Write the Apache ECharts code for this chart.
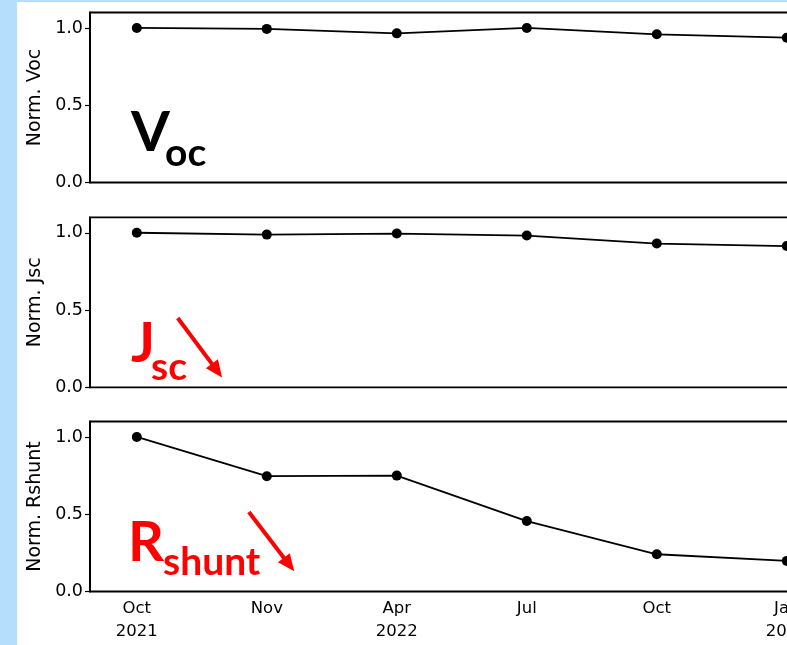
<!DOCTYPE html>
<html>
<head>
<meta charset="utf-8">
<script src="https://cdn.jsdelivr.net/npm/echarts@6/dist/echarts.min.js"></script>
<style>
  html, body { margin: 0; padding: 0; width: 787px; height: 645px; background: #b4defc; overflow: hidden; }
  #chart { position: absolute; left: 17px; top: 2px; width: 850px; height: 643px; background: #ffffff; }
</style>
</head>
<body>
<div id="chart"></div>
<script>
// Measurement dates (one per category) and normalised device parameters
const months = ['Oct\n2021', 'Nov', 'Apr\n2022', 'Jul', 'Oct', 'Jan\n2023'];
const voc = [1.0, 0.994, 0.965, 1.0, 0.959, 0.937];
const jsc = [1.0, 0.988, 0.995, 0.982, 0.930, 0.914];
const rshunt = [1.0, 0.746, 0.750, 0.456, 0.241, 0.198];
const yTicks = [0, 0.5, 1.0];
const yNames = ['Norm. Voc', 'Norm. Jsc', 'Norm. Rshunt'];

// Trend arrows in data units: [start, end]
const jscArrow = [[0.315, 0.448], [0.617, 0.108]];
const rshuntArrow = [[0.862, 0.514], [1.171, 0.175]];

const chart = echarts.init(document.getElementById('chart'), null, { renderer: 'canvas' });

const panelTops = [10.5, 215.3, 419.5];
const panelH = 170;
const FONT = 'DejaVu Sans';

const grids = panelTops.map(t => ({
  left: 73, top: t, width: 743.6, height: panelH,
  show: true, borderColor: '#000', borderWidth: 1.8, backgroundColor: 'transparent'
}));

const xAxes = panelTops.map((t, i) => ({
  type: 'value', gridIndex: i, min: -0.36, max: 5.36,
  axisLine: { show: false }, axisTick: { show: false }, splitLine: { show: false },
  axisLabel: {
    show: i === 2, customValues: [0, 1, 2, 3, 4, 5],
    formatter: v => months[Math.round(v)], color: '#000',
    fontFamily: FONT, fontSize: 16.5, lineHeight: 23, margin: 6
  }
}));

const yAxes = panelTops.map((t, i) => ({
  type: 'value', gridIndex: i, min: 0, max: 1.1,
  name: yNames[i], nameLocation: 'middle', nameGap: 45,
  nameTextStyle: { color: '#000', fontFamily: FONT, fontSize: 19 },
  axisLine: { show: true, onZero: false, lineStyle: { color: '#000', width: 1.8 } },
  axisTick: { show: true, length: 5, customValues: yTicks, lineStyle: { color: '#000', width: 1.2 } },
  splitLine: { show: false },
  axisLabel: {
    customValues: yTicks, formatter: v => v.toFixed(1), color: '#000',
    fontFamily: FONT, fontSize: 17.5, margin: 7
  }
}));

function arrowMark(a) {
  return {
    silent: true, animation: false,
    symbol: ['none', 'triangle'], symbolSize: [15, 17],
    lineStyle: { color: '#ff0000', width: 4, type: 'solid' },
    label: { show: false },
    data: [[{ coord: a[0] }, { coord: a[1] }]]
  };
}

const seriesData = [voc, jsc, rshunt];
const series = seriesData.map((vals, i) => ({
  type: 'line', xAxisIndex: i, yAxisIndex: i,
  data: vals.map((v, k) => [k, v]),
  symbol: 'circle', symbolSize: 10, showSymbol: true,
  lineStyle: { color: '#000', width: 1.8 },
  itemStyle: { color: '#000' },
  clip: false,
  markLine: i === 1 ? arrowMark(jscArrow) : (i === 2 ? arrowMark(rshuntArrow) : undefined)
}));

// Parameter labels with subscripts; positions given by baseline
const LFONT = 'Lato';
function label(txt, x, base, size, color) {
  return {
    type: 'text', x: x, y: base - 0.387 * size, z: 50,
    style: {
      text: txt, fill: color, fontFamily: LFONT, fontWeight: 'bold', fontSize: size,
      align: 'left', verticalAlign: 'middle'
    }
  };
}

const graphic = [
  label('V', 114, 153, 56, '#000'),
  label('oc', 148, 167, 39, '#000'),
  label('J', 114, 364, 56, '#ff0000'),
  label('sc', 134, 380.7, 39, '#ff0000'),
  label('R', 111, 563, 56, '#ff0000'),
  label('shunt', 146, 575.5, 39, '#ff0000')
];

chart.setOption({
  animation: false,
  grid: grids,
  xAxis: xAxes,
  yAxis: yAxes,
  series: series,
  graphic: graphic
});
</script>
</body>
</html>
